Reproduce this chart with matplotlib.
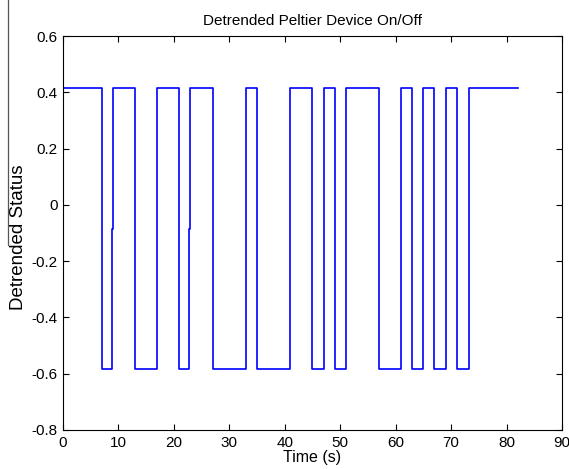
import matplotlib
matplotlib.use("Agg")
import matplotlib.pyplot as plt
from matplotlib.lines import Line2D

plt.rcParams['font.family'] = ['Liberation Sans', 'DejaVu Sans']

# Step data: times at which status changes and the (detrended) level from that time on
times = [0, 7, 8.9, 9.1, 13, 17, 21, 22.75, 22.95, 27, 33, 35, 41, 45, 47, 49, 51,
         57, 61, 63, 65, 67, 69, 71, 73.2, 82]
status = [0.415, -0.585, -0.085, 0.415, -0.585, 0.415, -0.585, -0.085, 0.415, -0.585,
          0.415, -0.585, 0.415, -0.585, 0.415, -0.585, 0.415, -0.585, 0.415, -0.585,
          0.415, -0.585, 0.415, -0.585, 0.415, 0.415]

xticks = [0, 10, 20, 30, 40, 50, 60, 70, 80, 90]
yticks = [-0.8, -0.6, -0.4, -0.2, 0, 0.2, 0.4, 0.6]
ytick_labels = ['-0.8', '-0.6', '-0.4', '-0.2', '0', '0.2', '0.4', '0.6']

fig = plt.figure(figsize=(5.69, 4.69), dpi=100)
ax = fig.add_axes([0.1107, 0.0832, 0.877, 0.8400])
ax.plot(times, status, drawstyle='steps-post', color=(0, 0, 1), lw=1.2)

ax.set_xlim(0, 90)
ax.set_ylim(-0.8, 0.6)
ax.set_xticks(xticks)
ax.set_yticks(yticks)
ax.set_yticklabels(ytick_labels)
ax.tick_params(direction='in', top=True, right=True, length=4, labelsize=11,
               width=0.8, pad=4)
for s in ax.spines.values():
    s.set_linewidth(0.8)

ax.set_title('Detrended Peltier Device On/Off', fontsize=11, pad=8)
ax.set_xlabel('Time (s)', fontsize=11.5, labelpad=0)
ax.set_ylabel('Detrended Status', fontsize=13.5)
ax.yaxis.set_label_coords(-0.072, 0.49)

# thin dark edge line at the left of the scanned figure
fig.add_artist(Line2D([8 / 569, 8 / 569], [1.0, 1 - 245 / 469],
                      transform=fig.transFigure, color='#555555', lw=0.9))

fig.savefig('out.png', dpi=100)
